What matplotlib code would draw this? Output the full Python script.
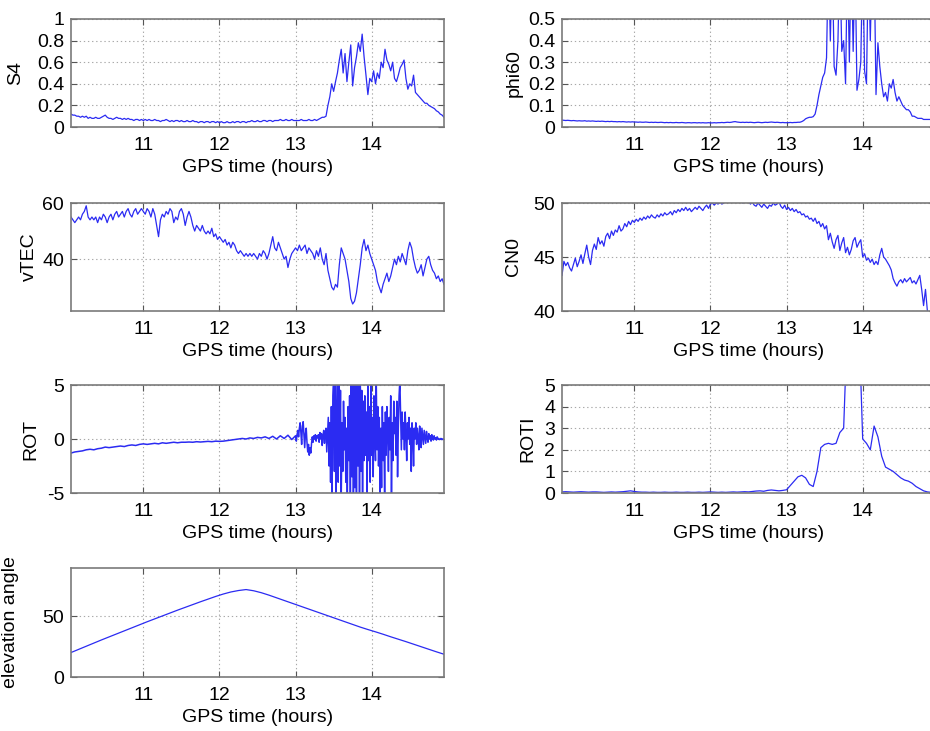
import numpy as np
import matplotlib
matplotlib.use("Agg")
import matplotlib.pyplot as plt

plt.rcParams['font.family'] = ['Liberation Sans', 'DejaVu Sans']

# ---------------- data ----------------
t_start, t_end = 10.05, 14.95
xticks = [11, 12, 13, 14]
xlabel = "GPS time (hours)"

# S4, sampled every 0.025 h from 10.05 to 14.95
s4 = [0.12,0.11,0.11,0.10,0.10,0.09,0.10,0.09,0.10,0.08,0.09,0.08,0.08,0.09,0.08,0.08,0.09,0.10,0.11,0.09,
      0.08,0.08,0.07,0.08,0.09,0.08,0.08,0.07,0.08,0.07,0.08,0.07,0.07,0.06,0.07,0.07,0.06,0.07,0.06,
      0.07,0.06,0.07,0.06,0.06,0.07,0.06,0.06,0.05,0.06,0.06,0.07,0.06,0.05,0.06,0.05,0.06,0.06,0.05,0.06,
      0.05,0.05,0.06,0.05,0.05,0.06,0.05,0.05,0.04,0.05,0.05,0.04,0.05,0.05,0.04,0.05,0.05,0.04,0.05,0.04,
      0.05,0.04,0.04,0.05,0.04,0.04,0.05,0.04,0.05,0.05,0.04,0.05,0.05,0.04,0.05,0.05,0.06,0.05,0.05,0.06,
      0.05,0.05,0.06,0.06,0.05,0.06,0.06,0.05,0.06,0.06,0.06,0.07,0.06,0.06,0.07,0.06,0.06,0.07,0.06,0.06,
      0.06,0.06,0.07,0.06,0.06,0.06,0.07,0.06,0.06,0.07,0.06,0.07,0.08,0.09,0.09,0.10,
      0.20,0.28,0.40,0.33,0.42,0.50,0.62,0.72,0.50,0.68,0.42,0.60,0.76,0.38,0.55,0.65,0.78,0.70,0.86,0.65,
      0.48,0.30,0.45,0.42,0.52,0.40,0.50,0.45,0.60,0.55,0.72,0.62,0.58,0.52,0.60,0.45,0.42,0.48,0.55,0.58,
      0.62,0.45,0.35,0.40,0.38,0.48,0.32,0.30,0.28,0.26,0.24,0.22,0.22,0.20,0.19,0.18,0.17,0.15,0.14,0.12,
      0.11,0.09]

# phi60, every 0.025 h (values above 0.5 run off the top of the axes)
phi60 = [0.032,0.031,0.030,0.031,0.030,0.029,0.030,0.029,0.028,0.029,0.028,0.028,0.029,0.027,0.028,0.027,0.028,0.027,0.026,0.027,
         0.026,0.027,0.026,0.025,0.026,0.025,0.026,0.025,0.025,0.024,0.025,0.024,0.025,0.024,0.023,0.024,0.023,0.024,0.023,
         0.023,0.022,0.023,0.022,0.022,0.023,0.022,0.021,0.022,0.021,0.022,0.021,0.021,0.022,0.021,0.020,0.021,0.020,0.021,0.020,
         0.020,0.021,0.020,0.020,0.021,0.020,0.019,0.020,0.020,0.019,0.020,0.020,0.019,0.020,0.019,0.020,0.019,0.019,0.020,0.019,
         0.019,0.020,0.019,0.020,0.020,0.021,0.020,0.021,0.022,0.021,0.022,0.024,0.025,0.023,0.022,0.021,0.022,0.021,0.022,0.021,
         0.022,0.021,0.020,0.021,0.022,0.021,0.020,0.021,0.022,0.021,0.022,0.023,0.022,0.021,0.022,0.021,0.020,0.021,0.020,0.020,
         0.020,0.021,0.020,0.021,0.021,0.022,0.022,0.025,0.030,0.038,0.042,0.045,0.045,0.048,0.060,0.100,
         0.15,0.19,0.23,0.25,0.32,0.80,0.40,0.80,0.28,0.24,0.40,0.80,0.35,0.40,0.20,0.80,0.30,0.80,0.35,0.80,
         0.17,0.22,0.30,0.80,0.26,0.20,0.80,0.40,0.80,0.80,0.15,0.39,0.28,0.20,0.14,0.16,0.12,0.20,0.18,0.22,
         0.16,0.12,0.14,0.12,0.10,0.09,0.08,0.08,0.07,0.05,0.05,0.045,0.04,0.04,0.04,0.035,0.035,0.035,0.035,0.035,
         0.035,0.035]

# vTEC, every 0.025 h
vtec = [55,54,53,54,55,54,56,57,59,55,54,55,54,55,53,55,54,56,55,53,55,56,54,56,57,55,56,57,55,57,58,56,55,57,58,56,57,58,57,
        56,58,57,55,58,56,52,48,54,56,55,57,56,58,57,53,55,54,57,58,56,52,55,57,55,52,50,52,51,50,52,50,49,50,49,51,48,49,47,48,
        47,46,47,45,46,44,46,45,43,42,43,42,41,42,41,42,41,42,41,40,42,41,43,42,40,42,45,48,44,43,46,44,42,40,41,37,40,42,43,44,
        43,45,43,44,45,42,44,43,42,40,43,41,44,40,38,42,
        36,33,30,29,31,30,38,44,42,40,36,32,26,24,25,28,33,38,44,47,43,45,42,40,38,36,32,30,28,31,
        33,35,32,34,37,40,38,41,39,42,40,38,43,46,44,40,37,35,36,38,34,37,40,41,38,36,35,33,34,32,
        33,31]

# CN0, every 0.025 h
cn0 = [43.3,44.6,44.2,44.5,44.0,43.7,44.3,44.9,44.1,44.6,45.2,44.4,45.3,46.1,45.0,44.3,45.6,46.2,45.7,46.8,
       46.2,46.5,46.0,46.9,47.2,46.7,47.4,47.0,47.5,47.3,47.9,47.4,47.6,48.1,47.8,48.3,48.0,48.4,48.2,
       48.5,48.3,48.6,48.4,48.7,48.5,48.8,48.6,48.9,48.7,48.6,48.9,48.7,49.0,48.8,49.1,48.9,49.0,49.2,48.9,
       49.3,49.1,49.4,49.2,49.5,49.3,49.6,49.3,49.5,49.2,49.4,49.6,49.4,49.7,49.5,49.3,49.6,49.8,49.5,49.9,
       50.0,49.8,50.0,49.9,50.1,49.9,50.0,50.2,50.1,50.3,50.2,50.4,50.2,50.1,50.3,50.2,50.0,50.3,50.1,50.2,
       49.9,50.1,49.8,49.7,50.0,49.8,49.6,49.9,49.7,49.5,49.8,49.7,50.0,49.8,49.9,50.1,49.7,49.5,49.8,49.4,
       49.6,49.3,49.5,49.2,49.4,49.1,49.2,48.9,49.0,48.7,48.8,48.5,48.6,48.3,48.6,48.1,
       48.3,47.8,48.1,47.6,47.9,46.6,47.2,46.4,45.8,46.6,47.0,45.6,46.3,46.8,45.4,45.9,45.2,45.7,46.5,46.8,
       45.9,46.3,46.6,45.0,45.3,44.7,44.9,44.5,44.8,44.3,44.6,44.3,45.2,45.8,45.0,44.8,44.5,44.2,43.8,43.0,
       42.6,42.3,42.7,42.9,42.6,43.0,42.7,42.9,43.1,42.6,42.8,42.5,42.9,43.3,42.0,40.5,42.0,40.0,39.5,39.5,
       39.5,39.5]

# ROT: quiet part every 0.05 h (10.05-12.95), active part every 0.01 h (13.00-14.95)
rot_quiet = [-1.3,-1.2,-1.15,-1.1,-1.0,-0.95,-1.0,-0.9,-0.85,-0.75,-0.8,-0.75,-0.7,-0.65,-0.7,-0.6,-0.55,-0.6,-0.5,-0.45,
             -0.5,-0.45,-0.4,-0.45,-0.35,-0.4,-0.35,-0.3,-0.35,-0.3,-0.3,-0.28,-0.3,-0.25,-0.28,-0.25,-0.22,-0.25,-0.2,-0.22,
             -0.2,-0.15,-0.1,-0.05,0.0,0.05,0.0,0.1,0.05,0.15,0.1,0.2,0.05,0.25,0.0,0.3,0.05,0.35,-0.05]
rot_active = [0.3,-0.2,0.4,0.8,0.2,1.0,1.5,0.6,-0.5,1.2,
              1.6,0.4,-0.8,0.5,1.0,-0.3,-1.2,-0.5,-1.5,-0.8,
              -1.3,-0.4,0.2,-0.3,0.3,0.0,0.4,-0.2,0.3,0.1,
              0.4,-0.3,0.6,0.0,0.5,-0.6,0.3,0.8,-0.4,0.5,
              1.0,-1.2,0.4,2.0,-2.5,1.5,-4.0,3.0,-5.2,4.0,
              5.5,-3.0,5.5,-5.5,2.0,6.0,-4.0,5.5,-2.5,4.5,
              -5.5,1.5,-3.0,3.5,-1.0,2.0,-4.0,1.0,-5.5,3.0,
              -2.0,4.0,-5.5,5.5,-3.5,6.0,-5.5,5.5,-4.5,6.0,
              -5.5,6.0,-2.5,5.5,-5.5,6.0,-3.0,4.5,-5.5,3.5,
              -2.0,4.0,-1.5,2.5,-5.5,6.0,-2.0,3.0,-4.0,5.5,
              -1.5,2.0,-3.5,4.0,0.5,-2.0,5.5,-1.0,3.0,-2.5,
              2.0,-5.5,1.0,-4.5,3.0,-2.0,1.5,-5.5,2.5,-1.5,
              3.0,0.5,-3.0,2.0,-1.0,4.0,-5.5,1.5,-2.0,3.5,
              0.5,2.0,-1.5,3.5,-3.5,1.0,4.0,5.5,2.0,-1.0,
              2.5,0.0,1.5,-1.0,2.5,0.5,-2.0,1.5,0.0,2.0,
              -0.5,1.0,-3.0,1.5,0.5,-2.5,1.0,0.0,1.5,-0.5,
              1.0,0.2,-1.0,1.2,0.5,-0.8,1.0,0.3,-0.5,0.8,
              0.2,-0.4,0.7,0.1,-0.3,0.5,0.0,0.3,-0.2,0.4,
              0.1,-0.1,0.3,0.0,0.1,-0.1,0.2,0.0,0.05,-0.05,
              0.0,0.05,-0.05,0.0,-0.05,0.0]

# ROTI, every 0.05 h
roti = [0.05,0.06,0.05,0.04,0.05,0.06,0.05,0.04,0.05,0.05,0.04,0.03,0.04,0.05,0.04,0.05,0.06,0.08,0.10,0.07,
        0.05,0.04,0.04,0.03,0.04,0.03,0.03,0.04,0.03,0.03,0.04,0.03,0.03,0.04,0.03,0.03,0.04,0.03,0.04,0.05,
        0.04,0.03,0.04,0.03,0.04,0.05,0.04,0.05,0.06,0.05,0.07,0.09,0.10,0.08,0.12,0.14,0.12,0.10,0.12,0.15,
        0.35,0.55,0.75,0.82,0.70,0.40,0.30,1.0,2.1,2.25,2.3,2.25,2.3,2.8,3.0,8.0,8.0,8.0,8.0,2.5,
        2.3,2.0,3.1,2.6,1.7,1.2,1.1,1.0,0.85,0.7,0.6,0.55,0.45,0.3,0.2,0.1,0.05,0.03,0.03]

# elevation angle, every 0.1 h
elevation = [20.2,22.8,25.4,28.0,30.6,33.1,35.6,38.1,40.6,43.1,45.6,48.0,50.4,52.8,55.2,57.5,59.8,62.1,64.3,66.5,
             68.5,70.2,71.4,72.2,71.2,69.6,67.6,65.4,63.2,61.0,58.8,56.6,54.4,52.2,50.0,47.8,45.6,43.4,41.2,39.2,
             37.3,35.3,33.2,31.2,29.2,27.1,25.0,22.9,20.8,18.8]

# y-axis settings
s4_ticks = [0, 0.2, 0.4, 0.6, 0.8, 1]
s4_labels = ["0", "0.2", "0.4", "0.6", "0.8", "1"]
phi_ticks = [0, 0.1, 0.2, 0.3, 0.4, 0.5]
phi_labels = ["0", "0.1", "0.2", "0.3", "0.4", "0.5"]
vtec_ticks = [40, 60]
cn0_ticks = [40, 45, 50]
rot_ticks = [-5, 0, 5]
roti_ticks = [0, 1, 2, 3, 4, 5]
elev_ticks = [0, 50]

# ---------------- figure ----------------
W, H = 930, 731
fig = plt.figure(figsize=(W / 100, H / 100), dpi=100)
fig.patch.set_facecolor('white')

LINE = '#2b2bf2'
LW = 0.9
FS = 14.0


def make_axes(px_l, px_t, px_r, px_b):
    return fig.add_axes([px_l / W, 1 - px_b / H, (px_r - px_l) / W, (px_b - px_t) / H])


def style(ax, ylim, yticks, ylabels, ylabel, lab_x):
    ax.set_xlim(t_start, t_end)
    ax.set_ylim(*ylim)
    ax.set_xticks(xticks)
    ax.set_xticklabels([str(v) for v in xticks])
    ax.set_yticks(yticks)
    ax.set_yticklabels(ylabels)
    ax.grid(True, color='#a8a8a8', linestyle=(0, (1.2, 2.5)), linewidth=0.8)
    ax.tick_params(direction='in', top=True, right=True, length=4, width=0.8,
                   color='#555555', labelsize=FS, pad=5)
    ax.tick_params(axis='x', pad=7.5)
    for s in ax.spines.values():
        s.set_color('#7a7a7a')
        s.set_linewidth(1.2)
    ax.set_xlabel(xlabel, fontsize=FS, labelpad=3.5)
    ax.set_ylabel(ylabel, fontsize=FS)
    ax.yaxis.set_label_coords(lab_x, 0.5)


LX_L, RX_L = 71, 444
LX_R, RX_R = 562, 935
rows = [(19, 127), (203, 311), (385, 493), (568, 677)]

# S4
ax = make_axes(LX_L, rows[0][0], RX_L, rows[0][1])
ax.plot(np.linspace(t_start, t_end, len(s4)), s4, color=LINE, lw=LW)
style(ax, (0, 1), s4_ticks, s4_labels, "S4", -0.125)

# phi60
ax = make_axes(LX_R, rows[0][0], RX_R, rows[0][1])
ax.plot(np.linspace(t_start, t_end, len(phi60)), phi60, color=LINE, lw=LW)
style(ax, (0, 0.5), phi_ticks, phi_labels, "phi60", -0.106)

# vTEC
ax = make_axes(LX_L, rows[1][0], RX_L, rows[1][1])
ax.plot(np.linspace(t_start, t_end, len(vtec)), vtec, color=LINE, lw=LW)
style(ax, (21.5, 60), vtec_ticks, [str(v) for v in vtec_ticks], "vTEC", -0.088)

# CN0
ax = make_axes(LX_R, rows[1][0], RX_R, rows[1][1])
ax.plot(np.linspace(t_start, t_end, len(cn0)), cn0, color=LINE, lw=LW)
style(ax, (40, 50), cn0_ticks, [str(v) for v in cn0_ticks], "CN0", -0.106)

# ROT
t_rot = np.concatenate([np.linspace(t_start, 12.95, len(rot_quiet)),
                        np.linspace(13.0, t_end, len(rot_active))])
ax = make_axes(LX_L, rows[2][0], RX_L, rows[2][1])
ax.plot(t_rot, rot_quiet + rot_active, color=LINE, lw=1.1)
style(ax, (-5, 5), rot_ticks, [str(v) for v in rot_ticks], "ROT", -0.085)

# ROTI
ax = make_axes(LX_R, rows[2][0], RX_R, rows[2][1])
ax.plot(np.linspace(t_start, t_end, len(roti)), roti, color=LINE, lw=LW)
style(ax, (0, 5), roti_ticks, [str(v) for v in roti_ticks], "ROTI", -0.068)

# elevation angle
ax = make_axes(LX_L, rows[3][0], RX_L, rows[3][1])
ax.plot(np.linspace(t_start, t_end, len(elevation)), elevation, color=LINE, lw=LW)
style(ax, (0, 90), elev_ticks, [str(v) for v in elev_ticks], "elevation angle", -0.14)

fig.savefig("out.png", dpi=100, facecolor='white')
